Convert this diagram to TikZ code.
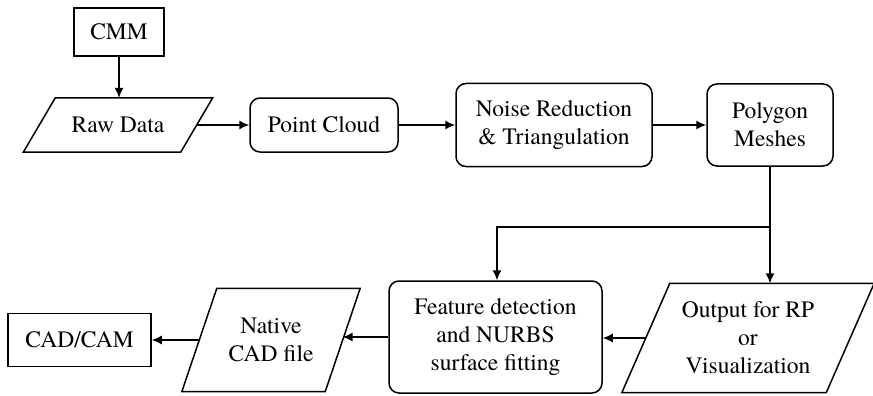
\documentclass[tikz,border=0pt]{standalone}
\usepackage{fontspec}
\setmainfont{TeX Gyre Termes}
\usetikzlibrary{arrows.meta}
\tikzset{
  base/.style={inner sep=0pt, align=center, font=\fontsize{23.5}{28}\selectfont},
  sqbox/.style={base, draw, line width=1.5pt},
  rbox/.style={base, draw, line width=1.5pt, rounded corners=10pt},
  iobox/.style={base},
  iodraw/.style={draw, line width=1.5pt},
  conn/.style={line width=1.5pt, -{Latex[length=10pt,width=9pt]}}
}
\begin{document}
\begin{tikzpicture}[x=1pt,y=-1pt]
\useasboundingbox (0,0) rectangle (873,396);
\node[sqbox, minimum width=90pt, minimum height=48pt] (cmm) at (119,32) {CMM};
\node[iobox, minimum width=157pt, minimum height=54pt] (raw) at (118,125) {Raw Data};
\node[rbox, minimum width=148pt, minimum height=54pt] (pc) at (324,125) {Point Cloud};
\node[rbox, minimum width=196pt, minimum height=83pt] (noise) at (554,125) {Noise Reduction\\\& Triangulation};
\node[rbox, minimum width=126pt, minimum height=82pt] (poly) at (770,125) {Polygon\\Meshes};
\node[rbox, minimum width=213pt, minimum height=112pt] (feat) at (495.5,337) {Feature detection\\and NURBS\\surface fitting};
\node[iobox, minimum width=204pt, minimum height=109pt] (out) at (748,338) {Output for RP\\or\\Visualization};
\node[iobox, minimum width=143pt, minimum height=103pt] (nat) at (271,340) {Native\\CAD file};
\node[sqbox, minimum width=143pt, minimum height=53pt] (cad) at (79.5,340) {CAD/CAM};
% parallelograms
\draw[iodraw] ([xshift=16pt]raw.north east) -- ([xshift=-16pt]raw.south east) -- ([xshift=-16pt]raw.south west) -- ([xshift=16pt]raw.north west) -- cycle;
\draw[iodraw] ([xshift=24pt]out.north east) -- ([xshift=-24pt]out.south east) -- ([xshift=-24pt]out.south west) -- ([xshift=24pt]out.north west) -- cycle;
\draw[iodraw] ([xshift=17.5pt]nat.north east) -- ([xshift=-17.5pt]nat.south east) -- ([xshift=-17.5pt]nat.south west) -- ([xshift=17.5pt]nat.north west) -- cycle;
% connectors
\draw[conn] (cmm.south) -- (cmm.south |- raw.north);
\draw[conn] (raw.east) -- (pc.west);
\draw[conn] (pc.east) -- (pc.east -| noise.west);
\draw[conn] (noise.east) -- (noise.east -| poly.west);
\coordinate (br) at (770,227);
\draw[conn] (poly.south) -- (poly.south |- out.north);
\draw[conn] (br) -| ([xshift=1.5pt]feat.north);
\draw[conn] (out.west) -- (out.west -| feat.east);
\draw[conn] (feat.west) -- (feat.west -| nat.east);
\draw[conn] (nat.west) -- (nat.west -| cad.east);
\end{tikzpicture}
\end{document}
